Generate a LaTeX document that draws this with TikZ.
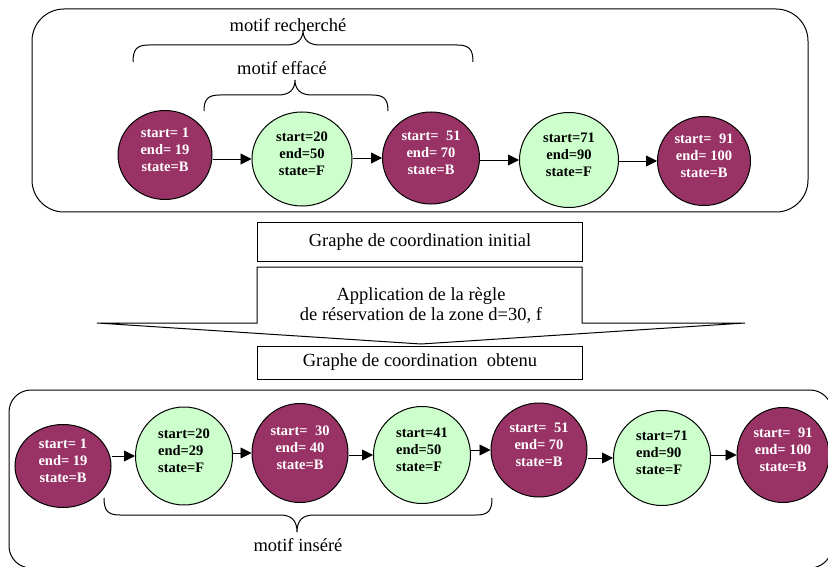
\documentclass[tikz,border=0pt]{standalone}
\usepackage{fontspec}
\setmainfont{Liberation Serif}
\usetikzlibrary{arrows.meta, positioning, shapes.geometric}
\definecolor{busycol}{HTML}{993366}
\definecolor{freecol}{HTML}{CCFFCC}
\tikzset{link/.style={ % Sets the properties for each transition
    draw,
    -{Triangle[length=11pt,width=11pt]}, % filled arrow heads
    line width=0.9pt}}

\begin{document}
\begin{tikzpicture}[x=1pt,y=-1pt]

        % Define style
        \tikzstyle{interval} = [ellipse, draw, line width=1pt, inner sep=0pt, font=\fontsize{14.5}{17}\selectfont\bfseries, text depth=11pt]
        \tikzstyle{zoneB} = [interval, fill=busycol, text=white, align=center]
        \tikzstyle{zoneF} = [interval, fill=freecol, align=center]
        \tikzstyle{zoneFl} = [interval, fill=freecol, align=left]
        \tikzstyle{caption} = [rectangle, draw, line width=1pt, minimum width=325pt, font=\fontsize{18.5}{20}\selectfont]
        \tikzstyle{motif} = [font=\fontsize{18.5}{20}\selectfont]

        \useasboundingbox (0,0) rectangle (828,567);
        \clip (0,0) rectangle (828,567);

        % Frames
        \draw[line width=1pt, rounded corners=32pt] (32,9) rectangle (808,212);
        \draw[line width=1pt, rounded corners=22pt] (9,390) rectangle (832,568);

        % Initial graph
        \node[zoneB, minimum width=94pt, minimum height=89pt] (init1) at (165,155) {start= 1\\end= 19\\state=B};
        \node[zoneF, minimum width=100pt, minimum height=94pt] (init2) at (302,159) {start=20\\end=50\\state=F};
        \node[zoneB, minimum width=97pt, minimum height=92pt] (init3) at (431,158) {start=\ \ 51\\end= 70\\state=B};
        \node[zoneF, minimum width=99pt, minimum height=95pt] (init4) at (569,160) {start=71\\end=90\\state=F};
        \node[zoneB, minimum width=93pt, minimum height=89pt] (init5) at (704,161) {start=\ \ 91\\end= 100\\state=B};

        \draw[link] (init1.east |- init2) -- (init2);
        \draw[link] (init2.east |- init3) -- (init3);
        \draw[link] (init3.east |- init4) -- (init4);
        \draw[link] (init4.east |- init5) -- (init5);

        % Braces (top)
        \draw[line width=1pt] (133,62) .. controls (133,49) and (137,45) .. (149,45) -- (286,45) .. controls (297,45) and (303,40) .. (303,30) .. controls (303,40) and (309,45) .. (320,45) -- (457,45) .. controls (469,45) and (473,49) .. (473,62);
        \draw[line width=1pt] (204,111) .. controls (204,99) and (208,95) .. (220,95) -- (278,95) .. controls (289,95) and (295,90) .. (295,80) .. controls (295,90) and (301,95) .. (312,95) -- (372,95) .. controls (384,95) and (388,99) .. (388,111);
        \node[motif] (searched) at (288,25.5) {motif recherché};
        \node[motif] (erased) at (282,68.5) {motif effacé};

        % Rule application
        \node[caption, minimum height=38pt] (initial) at (420,242) {Graphe de coordination initial};
        \draw[line width=1pt] (257,267) -- (582,267) -- (582,323) -- (745,323) -- (421,344) -- (97,323) -- (257,323) -- cycle;
        \node[motif, align=center] (rule) at (421,305) {Application de la règle\\de réservation de la zone d=30, f};
        \node[caption, minimum height=33pt] (obtained) at (420,362.5) {Graphe de coordination\ \ obtenu};

        % Resulting graph
        \node[zoneB, minimum width=96pt, minimum height=83pt] (res1) at (63,466) {start= 1\\end= 19\\state=B};
        \node[zoneFl, minimum width=97pt, minimum height=98pt] (res2) at (184,456) {start=20\\end=29\\state=F};
        \node[zoneB, minimum width=96pt, minimum height=99pt] (res3) at (300,453) {start=\ \ 30\\end= 40\\state=B};
        \node[zoneFl, minimum width=97pt, minimum height=97pt] (res4) at (422,455) {start=41\\end=50\\state=F};
        \node[zoneB, minimum width=96pt, minimum height=94pt] (res5) at (539,450) {start=\ \ 51\\end= 70\\state=B};
        \node[zoneFl, minimum width=97pt, minimum height=95pt] (res6) at (662,458) {start=71\\end=90\\state=F};
        \node[zoneB, minimum width=92pt, minimum height=95pt] (res7) at (783,455) {start=\ \ 91\\end= 100\\state=B};

        \draw[link] (res1.east |- res2) -- (res2);
        \draw[link] (res2.east |- res3) -- (res3);
        \draw[link] (res3.east |- res4) -- (res4);
        \draw[link] (res4.east |- res5) -- (res5);
        \draw[link] (res5.east |- res6) -- (res6);
        \draw[link] (res6.east |- res7) -- (res7);

        % Brace (bottom)
        \draw[line width=1pt] (104,498) .. controls (104,511) and (108,515) .. (120,515) -- (280,515) .. controls (291,515) and (297,520) .. (297,532) .. controls (297,520) and (303,515) .. (314,515) -- (476,515) .. controls (488,515) and (492,511) .. (492,498);
        \node[motif] (inserted) at (298,545) {motif inséré};

    \end{tikzpicture}
\end{document}
